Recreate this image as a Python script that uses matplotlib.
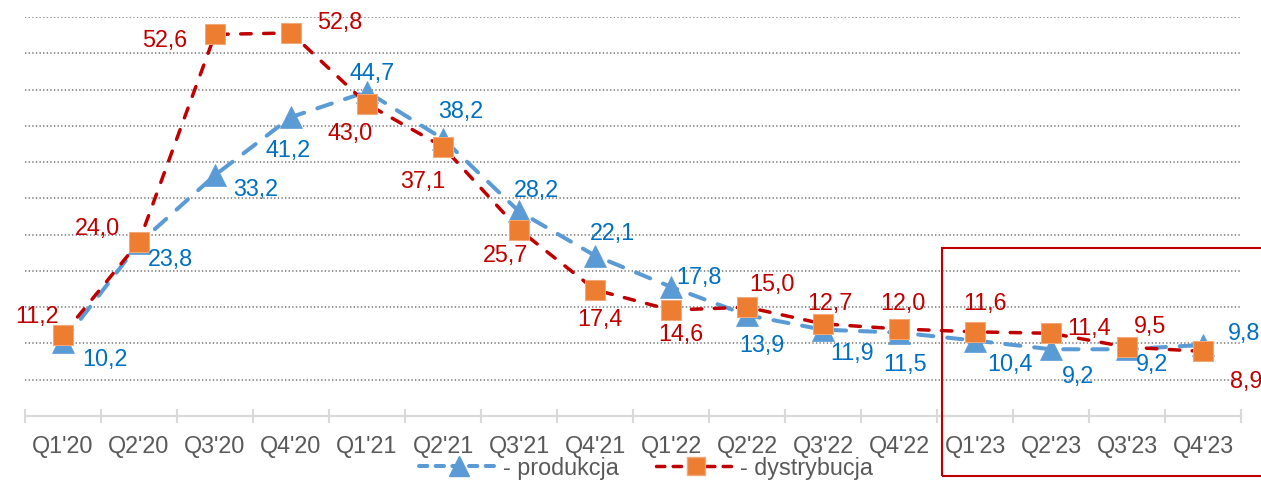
import matplotlib
matplotlib.use("Agg")
import matplotlib.pyplot as plt
from matplotlib.patches import Rectangle
from matplotlib.lines import Line2D

plt.rcParams['font.family'] = ['Liberation Sans', 'DejaVu Sans']
plt.rcParams['lines.scale_dashes'] = False

# ---- data ----
quarters = ["Q1'20", "Q2'20", "Q3'20", "Q4'20", "Q1'21", "Q2'21", "Q3'21", "Q4'21",
            "Q1'22", "Q2'22", "Q3'22", "Q4'22", "Q1'23", "Q2'23", "Q3'23", "Q4'23"]
produkcja = [10.2, 23.8, 33.2, 41.2, 44.7, 38.2, 28.2, 22.1,
             17.8, 13.9, 11.9, 11.5, 10.4, 9.2, 9.2, 9.8]
dystrybucja = [11.2, 24.0, 52.6, 52.8, 43.0, 37.1, 25.7, 17.4,
               14.6, 15.0, 12.7, 12.0, 11.6, 11.4, 9.5, 8.9]
legend_labels = ["- produkcja", "- dystrybucja"]

# label offsets (pixels, label centre relative to marker; +y = up)
prod_offsets = [(42, -16), (31, -14), (41, -12), (-3, -32), (5, 20), (18, 29), (17, 23), (17, 24),
                (28, 11), (15, -28), (29, -22), (6, -30), (35, -22), (27, -25), (25, -13), (41, 13)]
dist_offsets = [(-26, 20), (-42, 15), (-50, -4), (49, 12), (-17, -28), (-20, -33), (-13, -24), (5, -28),
                (10, -23), (25, 25), (7, 22), (4, 27), (10, 30), (38, 7), (23, 22), (43, -28)]

def fmt(v):
    return f"{v:.1f}".replace('.', ',')

W, H = 1261, 482
fig = plt.figure(figsize=(W / 100, H / 100), dpi=100)
ax = fig.add_axes([25 / W, (H - 416) / H, (1241 - 25) / W, (416 - 17) / H])

x = list(range(len(quarters)))
blue, blue_txt = '#5B9BD5', '#0070C0'
red, orange = '#C00000', '#ED7D31'

ax.plot(x, produkcja, color=blue, lw=2.9, dashes=(11, 10), dash_capstyle='round',
        marker='^', markersize=16, markerfacecolor=blue, markeredgecolor=blue,
        markeredgewidth=0.5, zorder=3)
ax.plot(x, dystrybucja, color=red, lw=2.5, dashes=(7.5, 9), dash_capstyle='round',
        marker='s', markersize=14.5, markerfacecolor=orange, markeredgecolor='#F3A878',
        markeredgewidth=0.75, zorder=4)

fs = 16.8
asc = 0.358 * fs * 100 / 72  # pixels from baseline to digit centre
for xi, v, (dx, dy) in zip(x, produkcja, prod_offsets):
    ax.annotate(fmt(v), (xi, v), xytext=(dx, dy - asc), textcoords='offset pixels',
                ha='center', va='baseline', fontsize=fs, color=blue_txt, zorder=5)
for xi, v, (dx, dy) in zip(x, dystrybucja, dist_offsets):
    ax.annotate(fmt(v), (xi, v), xytext=(dx, dy - asc), textcoords='offset pixels',
                ha='center', va='baseline', fontsize=fs, color=red, zorder=5)

ax.set_xlim(-0.5, len(quarters) - 0.5)
ax.set_ylim(0, 55)
ax.set_yticks(range(5, 56, 5))
ax.yaxis.grid(True, color='#808080', lw=1.2, linestyle=(0, (1, 1.6)))
ax.tick_params(axis='y', length=0, labelleft=False)
ax.set_axisbelow(True)

ax.set_xticks(x)
ax.set_xticklabels(quarters)
ax.set_xticks([i - 0.5 for i in range(len(quarters) + 1)], minor=True)
ax.tick_params(axis='x', which='major', length=0, pad=13.5, labelsize=fs, labelcolor='#595959')
ax.tick_params(axis='x', which='minor', direction='inout', length=10, width=1.5, color='#D9D9D9')

for s in ['top', 'right', 'left']:
    ax.spines[s].set_visible(False)
ax.spines['bottom'].set_color('#D9D9D9')
ax.spines['bottom'].set_linewidth(1.5)

handles = [
    Line2D([], [], color=blue, lw=2.9, dashes=(6, 6), dash_capstyle='round', marker='^',
           markersize=15, markerfacecolor=blue, markeredgecolor=blue),
    Line2D([], [], color=red, lw=2.5, dashes=(6, 6), dash_capstyle='round', marker='s',
           markersize=13.5, markerfacecolor=orange, markeredgecolor='#F3A878'),
]
fig.legend(handles, legend_labels, loc='center', bbox_to_anchor=(646 / W, (H - 468) / H),
           ncol=2, frameon=False, fontsize=fs, handlelength=3.4, handletextpad=0.2,
           columnspacing=1.6, labelcolor='#595959', borderpad=0)

fig.add_artist(Rectangle((942 / W, (H - 476) / H), (W + 20 - 942) / W, (476 - 248) / H,
                         transform=fig.transFigure, fill=False, edgecolor=red, lw=1.5))

fig.savefig('out.png', dpi=100)
